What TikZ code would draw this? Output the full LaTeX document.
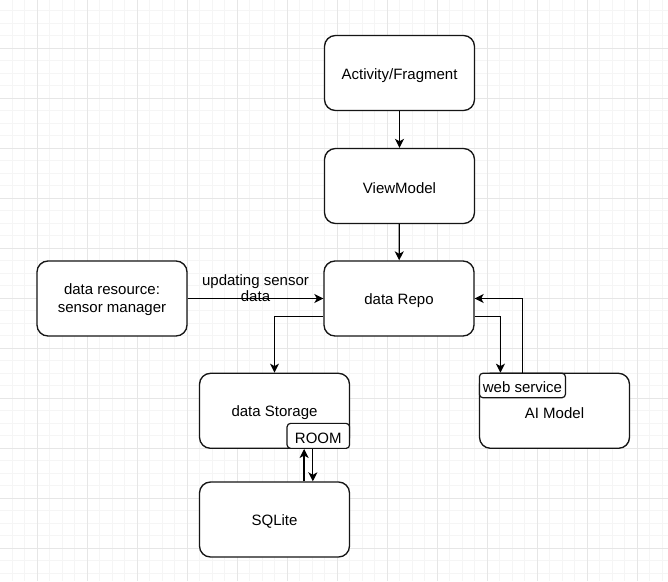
\documentclass[tikz,border=0pt]{standalone}
\usepackage{fontspec}
\setmainfont{Liberation Sans}
\usetikzlibrary{arrows.meta,calc}
\definecolor{gridminor}{HTML}{F5F5F5}
\definecolor{gridmajor}{HTML}{E6E6E6}
\definecolor{edge}{HTML}{151515}
\tikzset{
  box/.style={draw=edge,line width=1.35pt,fill=white,rounded corners=11pt,minimum width=150pt,minimum height=75pt,inner sep=0pt},
  tag/.style={draw=edge,line width=1.2pt,fill=white,rounded corners=3.5pt,inner sep=0pt},
  txt/.style={font=\fontsize{15pt}{18pt}\selectfont,align=center,inner sep=0pt,yshift=-2.3pt},
  arr/.style={draw=black,line width=1.3pt,-{Stealth[length=9pt,width=9pt,inset=2.5pt]}},
}
\begin{document}
\begin{tikzpicture}[x=1pt,y=-1pt]
\useasboundingbox (0,0) rectangle (668,581);
\fill[white] (0,0) rectangle (668,581);
% grid
\foreach \x in {-0.5,12,...,668} \draw[gridminor,line width=0.7pt] (\x,0) -- (\x,581);
\foreach \y in {-2,10.5,...,581} \draw[gridminor,line width=0.7pt] (0,\y) -- (668,\y);
\foreach \x in {37,87,...,668} \draw[gridmajor,line width=0.8pt] (\x,0) -- (\x,581);
\foreach \y in {48,98,...,581} \draw[gridmajor,line width=0.8pt] (0,\y) -- (668,\y);
% nodes
\node[box,label={[txt]center:Activity/Fragment}] (act) at (399.5,73) {};
\node[box,label={[txt]center:ViewModel}] (vm) at (399.5,186) {};
\node[box,label={[txt]center:data Repo}] (repo) at (399,298.5) {};
\node[box,label={[txt,yshift=0.9pt]center:data resource:\\sensor manager}] (res) at (112,298.5) {};
\node[box,label={[txt]center:data Storage}] (stor) at (274.5,410.8) {};
\node[box,label={[txt]center:AI Model}] (ai) at (554.5,410.8) {};
\node[box,label={[txt]center:SQLite}] (sql) at (274.5,519.5) {};
\node[tag,minimum width=62.5pt,minimum height=25pt,anchor=south east,label={[txt,yshift=0.3pt]center:ROOM}] (room) at (stor.south east) {};
\node[tag,minimum width=86pt,minimum height=24.5pt,anchor=north west,label={[txt,yshift=0.6pt]center:web service}] (web) at (ai.north west) {};
% connectors
\draw[arr] (act) -- (vm);
\draw[arr] (vm) -- (repo);
\draw[arr] (res) -- (repo) node[midway,yshift=10.5pt,align=center,inner sep=0pt,font=\fontsize{15pt}{16pt}\selectfont] (lbl) {updating sensor\\data};
\draw[arr] ([yshift=-18.2pt]repo.west) -| (stor.north);
\draw[arr] ([yshift=-18.2pt]repo.east) -| ([xshift=-22pt]web.north);
\draw[arr] (web.north) |- (repo.east);
\draw[arr] ([xshift=-14.2pt]room.south |- sql.north) -- ([xshift=-14.2pt]room.south);
\draw[arr] ([xshift=-5.5pt]room.south) -- ([xshift=-5.5pt]room.south |- sql.north);
\end{tikzpicture}
\end{document}
